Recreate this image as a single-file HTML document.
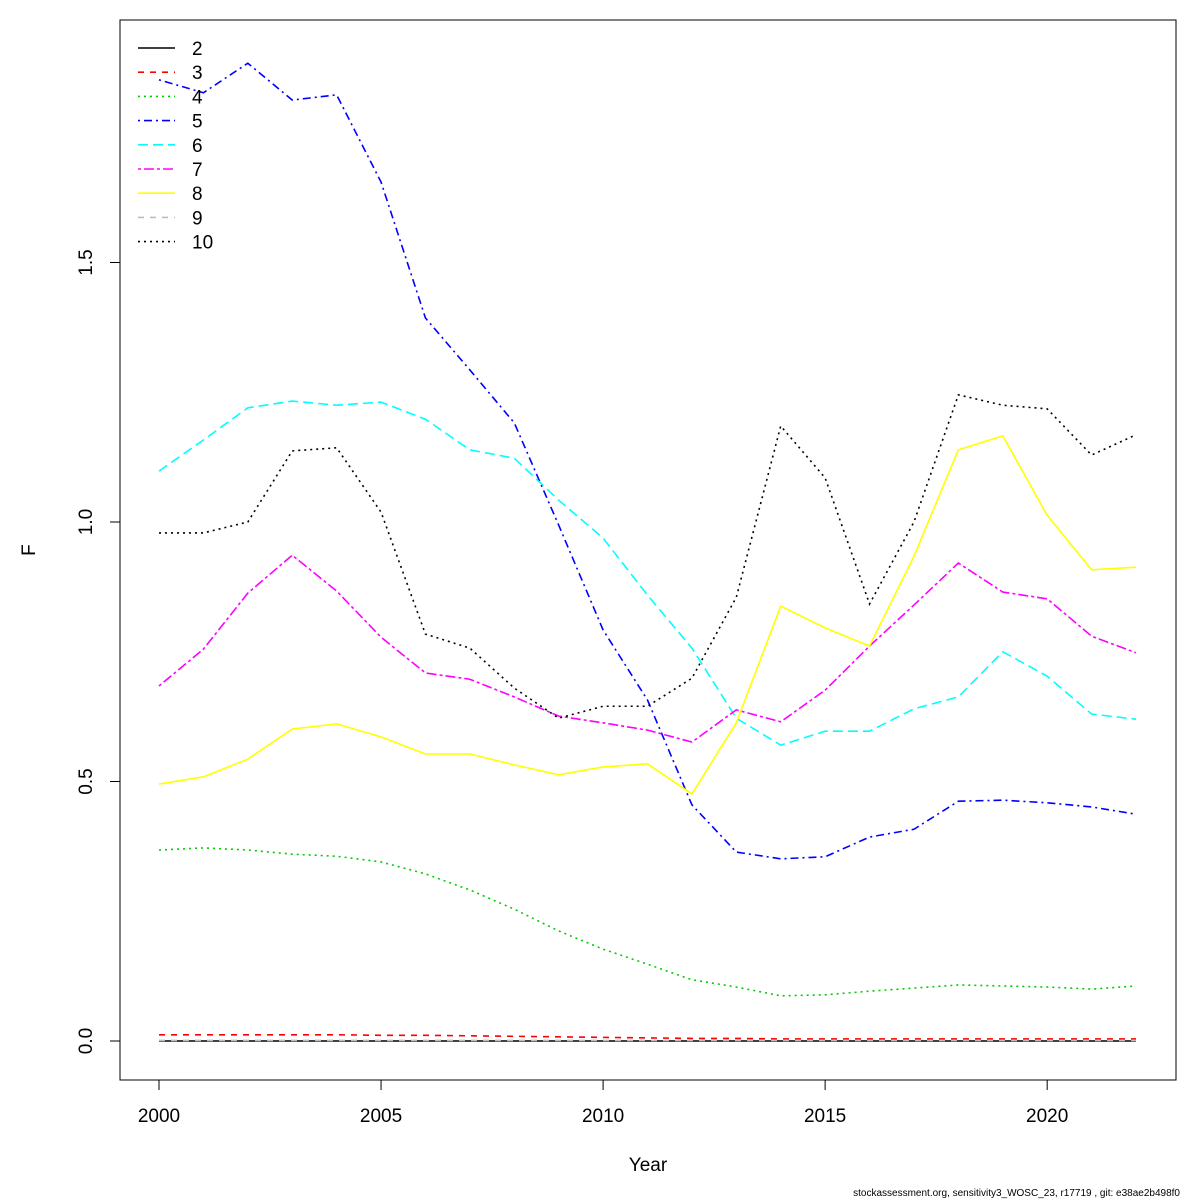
<!DOCTYPE html>
<html><head><meta charset="utf-8"><style>
html,body{margin:0;padding:0;background:#fff;}
svg{display:block;font-family:"Liberation Sans",Arial,sans-serif;}
</style></head><body>
<svg id="chart" width="1200" height="1200" viewBox="0 0 1200 1200">
<rect x="0" y="0" width="1200" height="1200" fill="#fff"/>
<rect x="120" y="20" width="1056" height="1060" fill="none" stroke="#000" stroke-width="1"/>
<g id="axes"></g>
<g id="series"></g>
<g id="legend"></g>
<text x="35" y="550" font-size="19" text-anchor="middle" transform="rotate(-90 35 550)">F</text>
<text x="648" y="1171" font-size="19" text-anchor="middle">Year</text>
<text x="1180" y="1196" font-size="10" text-anchor="end">stockassessment.org, sensitivity3_WOSC_23, r17719 , git: e38ae2b498f0</text>
</svg>
<script>
const years = [2000,2001,2002,2003,2004,2005,2006,2007,2008,2009,2010,2011,2012,2013,2014,2015,2016,2017,2018,2019,2020,2021,2022];
const f2 = [0,0,0,0,0,0,0,0,0,0,0,0,0,0,0,0,0,0,0,0,0,0,0];
const f3 = [0.012,0.012,0.012,0.012,0.012,0.011,0.011,0.010,0.009,0.008,0.007,0.006,0.005,0.005,0.004,0.004,0.004,0.004,0.004,0.004,0.004,0.004,0.004];
const f4 = [0.368,0.372,0.368,0.360,0.356,0.345,0.322,0.291,0.254,0.212,0.177,0.148,0.118,0.104,0.087,0.089,0.096,0.102,0.108,0.106,0.104,0.100,0.106];
const f5 = [1.852,1.827,1.884,1.813,1.823,1.655,1.393,1.293,1.191,0.994,0.792,0.657,0.455,0.364,0.351,0.355,0.393,0.408,0.462,0.464,0.459,0.451,0.437];
const f6 = [1.098,1.158,1.220,1.233,1.225,1.231,1.198,1.139,1.123,1.042,0.969,0.859,0.757,0.622,0.570,0.597,0.597,0.640,0.663,0.750,0.703,0.630,0.620];
const f7 = [0.684,0.755,0.863,0.936,0.867,0.778,0.709,0.697,0.663,0.626,0.613,0.599,0.576,0.638,0.615,0.676,0.761,0.840,0.921,0.865,0.852,0.780,0.748];
const f8 = [0.495,0.509,0.543,0.601,0.611,0.586,0.553,0.553,0.532,0.513,0.528,0.534,0.476,0.613,0.838,0.796,0.761,0.934,1.139,1.166,1.013,0.908,0.913];
const f9 = [0.001,0.001,0.001,0.001,0.001,0.001,0.001,0.001,0.001,0.001,0.001,0.001,0.001,0.001,0.001,0.001,0.001,0.001,0.001,0.001,0.001,0.001,0.001];
const f10 = [0.979,0.979,1.000,1.137,1.143,1.019,0.784,0.757,0.680,0.622,0.645,0.645,0.699,0.855,1.185,1.085,0.842,1.000,1.245,1.225,1.218,1.129,1.168];
const seriesLabels = ["2","3","4","5","6","7","8","9","10"];
const xTicks = [2000,2005,2010,2015,2020];
const yTicks = [0,0.5,1,1.5];
const yTickLabels = ["0.0","0.5","1.0","1.5"];

const NS = "http://www.w3.org/2000/svg";
function xs(v){ return 159 + (v-2000)*(1136-159)/22; }
function ys(v){ return 1041 - v*519; }
function mk(tag, attrs, parent){ const e=document.createElementNS(NS,tag); for(const k in attrs) e.setAttribute(k,attrs[k]); parent.appendChild(e); return e; }

const axes=document.getElementById('axes');
mk('line',{x1:xs(2000),x2:xs(2020),y1:1080,y2:1080,stroke:'#000'},axes);
xTicks.forEach(t=>{
  const l=mk('line',{x1:xs(t),x2:xs(t),y1:1080,y2:1090,stroke:'#000'},axes);
  
  
  const tx=mk('text',{x:xs(t),y:1122,'font-size':19,'text-anchor':'middle'},axes);
  tx.textContent=t;
  
  
});
mk('line',{x1:120,x2:120,y1:ys(0),y2:ys(1.5),stroke:'#000'},axes);
yTicks.forEach((t,i)=>{
  const l=mk('line',{x1:110,x2:120,y1:ys(t),y2:ys(t),stroke:'#000'},axes);
  
  
  const tx=mk('text',{x:92,y:ys(t),'font-size':19,'text-anchor':'middle',transform:`rotate(-90 92 ${ys(t)})`},axes);
  tx.textContent=yTickLabels[i];
  
  
});

const data=[f2,f3,f4,f5,f6,f7,f8,f9,f10];
const colors=["#000","#ff0000","#00cd00","#0000ff","#00ffff","#ff00ff","#ffff00","#bebebe","#000"];
const dashes=["none","6,6","2,4","2,4,8,4","10,5","3,3,10,3","none","6,6","2,4"];
const sg=document.getElementById('series');
data.forEach((arr,i)=>{
  const pts=arr.map((v,j)=>xs(years[j])+','+ys(v)).join(' ');
  const p=mk('polyline',{points:pts,fill:'none',stroke:colors[i],'stroke-width':1.6,'stroke-dasharray':dashes[i]},sg);
  
  
});
const lg=document.getElementById('legend');
seriesLabels.forEach((lab,i)=>{
  const y=48+i*24.2;
  const g=mk('g',{},lg);
  
  
  mk('line',{x1:138,x2:175,y1:y,y2:y,stroke:colors[i],'stroke-width':1.6,'stroke-dasharray':dashes[i]},g);
  const t=mk('text',{x:192,y:y+7,'font-size':19},g);
  t.textContent=lab;
});
</script>
</body></html>
